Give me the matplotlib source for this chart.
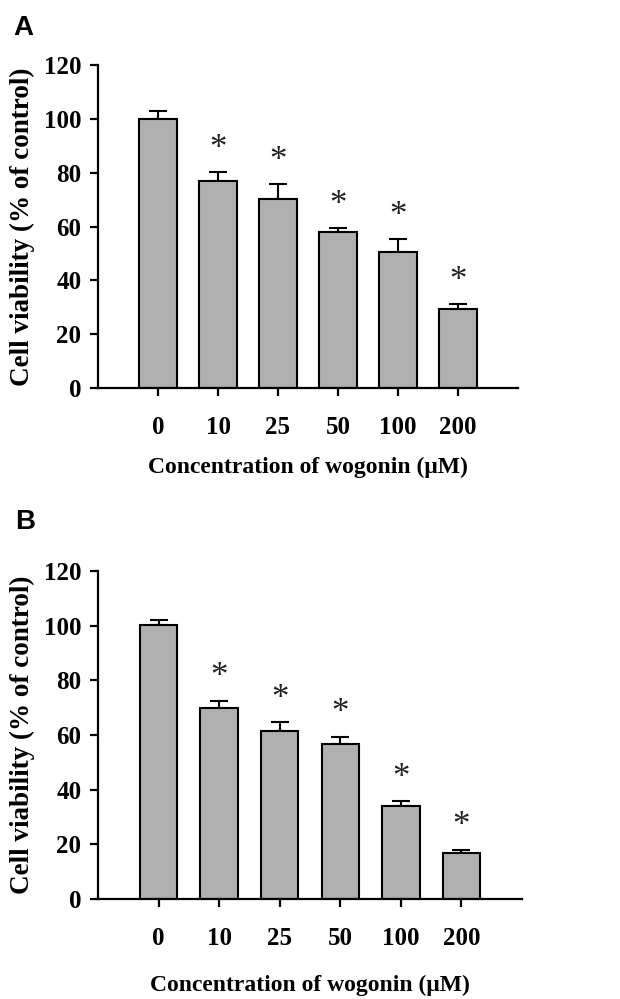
import matplotlib
matplotlib.use("Agg")
import matplotlib.pyplot as plt
import numpy as np

categories = ["0", "10", "25", "50", "100", "200"]
values_a = [100.0, 77.0, 70.4, 57.9, 50.6, 29.5]
errors_a = [3.0, 3.2, 5.3, 1.4, 4.8, 1.6]
sig_a = [False, True, True, True, True, True]
values_b = [100.1, 69.9, 61.5, 56.8, 34.0, 16.7]
errors_b = [2.0, 2.6, 3.1, 2.5, 1.7, 1.2]
sig_b = [False, True, True, True, True, True]
yticks = [0, 20, 40, 60, 80, 100, 120]
xlabel = "Concentration of wogonin (\u03bcM)"
ylabel = "Cell viability (% of control)"

serif = ["Liberation Serif", "DejaVu Serif"]
sans = ["Liberation Sans", "DejaVu Sans"]
W, H = 620, 999
fig = plt.figure(figsize=(W / 100, H / 100), dpi=100)

def panel(px_left, px_right, px_top, px_bottom, vals, errs, sig, letter, letter_px,
          xlabel_top_px, ylabel_right_px):
    rect = [px_left / W, 1 - px_bottom / H, (px_right - px_left) / W, (px_bottom - px_top) / H]
    ax = fig.add_axes(rect)
    aw = px_right - px_left
    ah = px_bottom - px_top
    x = np.arange(len(categories))
    ax.bar(x, vals, width=0.62, color="#b0b0b0", edgecolor="black", linewidth=1.5, zorder=2)
    ax.errorbar(x, vals, yerr=[np.zeros(len(vals)), errs], fmt="none", ecolor="black",
                elinewidth=1.5, capsize=6.5, capthick=1.5, zorder=1)
    for xi, v, e, s in zip(x, vals, errs, sig):
        if s:
            ax.text(xi, v + e + 8.5, "*", ha="center", va="center", fontsize=25,
                    family=serif, color="#222222")
    ax.set_xlim(-1, 6)
    ax.set_ylim(0, 120)
    ax.set_yticks(yticks)
    ax.set_yticklabels([str(t) for t in yticks], family=serif, fontweight="bold", fontsize=18)
    ax.set_xticks(x)
    ax.set_xticklabels(categories, family=serif, fontweight="bold", fontsize=18)
    for s in ["top", "right"]:
        ax.spines[s].set_visible(False)
    for s in ["left", "bottom"]:
        ax.spines[s].set_linewidth(1.6)
    ax.tick_params(axis="y", direction="out", length=6, width=1.6, pad=6)
    ax.tick_params(axis="x", direction="out", length=6, width=1.6, pad=14)
    ax.set_xlabel(xlabel, family=serif, fontweight="bold", fontsize=17)
    ax.set_ylabel(ylabel, family=serif, fontweight="bold", fontsize=19.5)
    ax.xaxis.set_label_coords(0.5, (px_bottom - xlabel_top_px) / ah)
    ax.yaxis.set_label_coords((ylabel_right_px - px_left) / aw, 0.5)
    fig.text(letter_px[0] / W, 1 - letter_px[1] / H, letter, family=sans,
             fontweight="bold", fontsize=20, ha="left", va="center")
    return ax

panel(98, 518, 65, 388, values_a, errors_a, sig_a, "A", (13, 28), 457, 35)
panel(98, 522, 571, 899, values_b, errors_b, sig_b, "B", (15, 522), 975, 35)

fig.savefig("out.png", dpi=100)
